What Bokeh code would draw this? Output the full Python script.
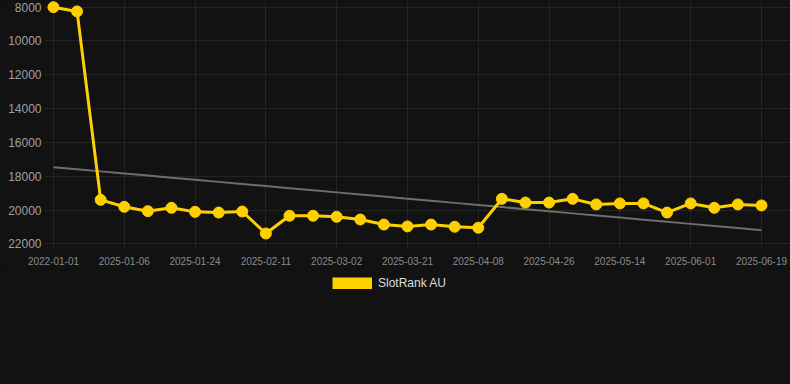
import numpy as np
from bokeh.plotting import figure
from bokeh.layouts import column
from bokeh.models import Range1d, FixedTicker, Legend, LegendItem, ColumnDataSource
from bokeh.embed import file_html
from bokeh.resources import INLINE

# ---- data ----
dates = ["2022-01-01", "2024-12-25", "2024-12-31", "2025-01-06", "2025-01-12", "2025-01-18",
         "2025-01-24", "2025-01-30", "2025-02-05", "2025-02-11", "2025-02-17", "2025-02-23",
         "2025-03-02", "2025-03-08", "2025-03-14", "2025-03-21", "2025-03-27", "2025-04-02",
         "2025-04-08", "2025-04-14", "2025-04-20", "2025-04-26", "2025-05-02", "2025-05-08",
         "2025-05-14", "2025-05-20", "2025-05-26", "2025-06-01", "2025-06-07", "2025-06-13",
         "2025-06-19"]
ranks = [8000, 8250, 19400, 19810, 20070, 19870, 20110, 20150, 20090, 21390, 20340, 20340,
         20400, 20560, 20860, 20970, 20860, 20990, 21050, 19340, 19560, 19560, 19340, 19670,
         19610, 19610, 20150, 19610, 19870, 19670, 19730]
y_ticks = [8000, 10000, 12000, 14000, 16000, 18000, 20000, 22000]
series_name = "SlotRank AU"

BG = "#121212"
YELLOW = "#ffd000"
GRID = "#242424"

idx = np.arange(len(ranks))
slope, intercept = np.polyfit(idx, np.array(ranks, dtype=float), 1)
trend = intercept + slope * idx

src = ColumnDataSource(dict(x=idx, y=ranks, trend=trend))

p = figure(width=790, height=270, output_backend="svg", toolbar_location=None,
           x_range=Range1d(-0.38, 31.23), y_range=Range1d(22278, 7604),
           min_border_left=44, min_border_right=0, min_border_top=0, min_border_bottom=22,
           background_fill_color=BG, border_fill_color=BG, outline_line_color=None)
p.styles = {"background-color": BG}

p.line("x", "trend", source=src, line_color="#6e6e6e", line_width=2)
p.line("x", "y", source=src, line_color=YELLOW, line_width=3)
p.scatter("x", "y", source=src, size=11, fill_color=YELLOW, line_color=YELLOW)

label_ticks = list(range(0, len(dates), 3))
p.xaxis.ticker = FixedTicker(ticks=label_ticks)
p.xaxis.major_label_overrides = {i: dates[i] for i in label_ticks}
p.yaxis.ticker = FixedTicker(ticks=y_ticks)

for ax in (p.xaxis[0], p.yaxis[0]):
    ax.axis_line_color = None
    ax.major_tick_line_color = None
    ax.minor_tick_line_color = None
    ax.major_label_text_font = "Liberation Sans"

p.xaxis.major_label_text_font_size = "10px"
p.xaxis.major_label_text_color = "#8a8a8a"
p.xaxis.major_label_standoff = 2
p.yaxis.major_label_text_font_size = "12px"
p.yaxis.major_label_text_color = "#a0a0a0"
p.yaxis.major_label_standoff = -3

p.xgrid.grid_line_color = GRID
p.ygrid.grid_line_color = GRID

# legend strip below the chart
lg = figure(width=790, height=114, output_backend="svg", toolbar_location=None,
            x_range=Range1d(0, 1), y_range=Range1d(0, 1),
            min_border_left=0, min_border_right=0, min_border_top=0, min_border_bottom=0,
            background_fill_color=BG, border_fill_color=BG, outline_line_color=None)
lg.styles = {"background-color": BG}
lg.axis.visible = False
lg.grid.visible = False
sw = lg.line(x=idx, y=ranks, line_color=YELLOW, line_width=12, line_cap="butt", visible=False)
legend = Legend(items=[LegendItem(label=series_name, renderers=[sw])],
                location=(288, 94), orientation="horizontal",
                glyph_width=40, glyph_height=12, label_height=12, label_standoff=6,
                padding=0, margin=0, border_line_color=None, background_fill_alpha=0,
                inactive_fill_alpha=0,
                label_text_color="#dddddd", label_text_font_size="12px",
                label_text_font="Liberation Sans")
lg.add_layout(legend, "center")

layout = column(p, lg, spacing=0)
layout.styles = {"background-color": BG}

open("out.html", "w").write(file_html(layout, INLINE))
